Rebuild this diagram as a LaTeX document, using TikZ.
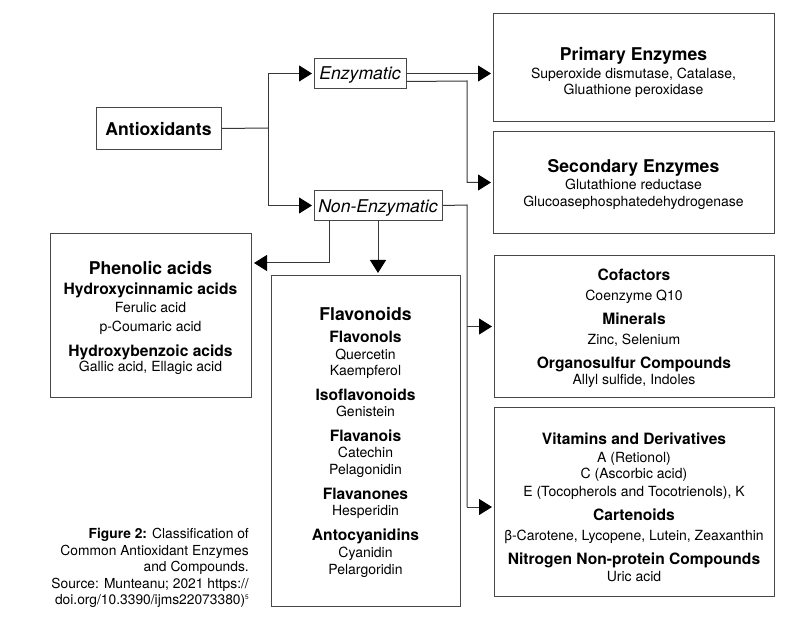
\documentclass[tikz,border=0pt]{standalone}
\usepackage{fontspec}
\setmainfont{TeX Gyre Heros}
\usetikzlibrary{arrows.meta}
\tikzset{
  boxn/.style={draw=black!72, line width=1pt, inner sep=0pt, anchor=north west},
  tx/.style={anchor=base, inner sep=0pt, text=black},
  hd/.style={tx, font=\fontsize{17.6}{20}\selectfont\bfseries},
  sh/.style={tx, font=\fontsize{15.6}{18}\selectfont\bfseries},
  itm/.style={tx, font=\fontsize{14}{16}\selectfont},
  ital/.style={tx, font=\fontsize{17.6}{20}\selectfont\itshape},
  captxt/.style={anchor=base east, inner sep=0pt, font=\fontsize{13.8}{16}\selectfont},
  conn/.style={draw=black!78, line width=1pt},
  arr/.style={conn, -{Triangle[length=13pt,width=16pt,fill=black,color=black]}, shorten >=2pt}
}
\begin{document}
\begin{tikzpicture}[x=1pt,y=-1pt]
\useasboundingbox[fill=white] (0,0) rectangle (800,620);

% ---- boxes ----
\node[boxn, minimum width=125pt, minimum height=42pt] (anti) at (96,107) {};
\node[boxn, minimum width=92pt, minimum height=30pt] (enz) at (314,58) {};
\node[boxn, minimum width=128pt, minimum height=30pt] (nenz) at (314,190) {};
\node[boxn, minimum width=281pt, minimum height=108pt] (prim) at (493,13) {};
\node[boxn, minimum width=281pt, minimum height=102pt] (sec) at (493,131) {};
\node[boxn, minimum width=201pt, minimum height=164pt] (phen) at (50,233) {};
\node[boxn, minimum width=189pt, minimum height=331pt] (flav) at (271,275) {};
\node[boxn, minimum width=280pt, minimum height=142pt] (cof) at (494,255) {};
\node[boxn, minimum width=280pt, minimum height=189pt] (vit) at (494,407) {};

% ---- texts ----
\node[hd] (anti-t) at (158.5,135.5) {Antioxidants};
\node[ital] (enz-t) at (360,80) {Enzymatic};
\node[ital] (nenz-t) at (378,212.5) {Non-Enzymatic};

\node[hd] (prim-h) at (633.5,60.6) {Primary Enzymes};
\node[itm] (prim-a) at (633.5,78.3) {Superoxide dismutase, Catalase,};
\node[itm] (prim-b) at (633.5,94.3) {Gluathione peroxidase};

\node[hd] (sec-h) at (633.5,173) {Secondary Enzymes};
\node[itm] (sec-a) at (633.5,189.3) {Glutathione reductase};
\node[itm] (sec-b) at (633.5,206.7) {Glucoasephosphatedehydrogenase};

\node[hd] (phen-h) at (150.5,274) {Phenolic acids};
\node[sh] (phen-s1) at (150.5,294.9) {Hydroxycinnamic acids};
\node[itm] (phen-a) at (150.5,312.3) {Ferulic acid};
\node[itm] (phen-b) at (150.5,331) {p-Coumaric acid};
\node[sh] (phen-s2) at (150.5,356.3) {Hydroxybenzoic acids};
\node[itm] (phen-c) at (150.5,371.7) {Gallic acid, Ellagic acid};

\node[hd] (flav-h) at (365.5,320.3) {Flavonoids};
\node[sh] (flav-s1) at (365.5,342.3) {Flavonols};
\node[itm] (flav-a) at (365.5,359) {Quercetin};
\node[itm] (flav-b) at (365.5,375.7) {Kaempferol};
\node[sh] (flav-s2) at (365.5,400.6) {Isoflavonoids};
\node[itm] (flav-c) at (365.5,416.7) {Genistein};
\node[sh] (flav-s3) at (365.5,441.6) {Flavanois};
\node[itm] (flav-d) at (365.5,457.7) {Catechin};
\node[itm] (flav-e) at (365.5,474.3) {Pelagonidin};
\node[sh] (flav-s4) at (365.5,499.6) {Flavanones};
\node[itm] (flav-f) at (365.5,515.7) {Hesperidin};
\node[sh] (flav-s5) at (365.5,540.6) {Antocyanidins};
\node[itm] (flav-g) at (365.5,557.7) {Cyanidin};
\node[itm] (flav-i) at (365.5,574.3) {Pelargoridin};

\node[sh] (cof-s1) at (634,280.6) {Cofactors};
\node[itm] (cof-a) at (634,300) {Coenzyme Q10};
\node[sh] (cof-s2) at (634,324.9) {Minerals};
\node[itm] (cof-b) at (634,344) {Zinc, Selenium};
\node[sh] (cof-s3) at (634,368.3) {Organosulfur Compounds};
\node[itm] (cof-c) at (634,384.3) {Allyl sulfide, Indoles};

\node[sh] (vit-s1) at (634,444.6) {Vitamins and Derivatives};
\node[itm] (vit-a) at (634,462.3) {A (Retionol)};
\node[itm] (vit-b) at (634,478.3) {C (Ascorbic acid)};
\node[itm] (vit-c) at (634,496.7) {E (Tocopherols and Tocotrienols), K};
\node[sh] (vit-s2) at (634,520.9) {Cartenoids};
\node[itm] (vit-d) at (634,540) {β-Carotene, Lycopene, Lutein, Zeaxanthin};
\node[sh] (vit-s3) at (634,564.9) {Nitrogen Non-protein Compounds};
\node[itm] (vit-e) at (634,581.7) {Uric acid};

% ---- caption ----
\node[captxt] (cap1) at (249,538) {\textbf{Figure 2:} Classification of};
\node[captxt] (cap2) at (249,555) {Common Antioxidant Enzymes};
\node[captxt] (cap3) at (249,571.7) {and Compounds.};
\node[captxt] (cap4) at (249,588) {Source: Munteanu; 2021 https://};
\node[captxt] (cap5) at (249,604.5) {doi.org/10.3390/ijms22073380)\raisebox{5pt}{\fontsize{6.5}{7}\selectfont 5}};

% ---- connectors ----
\draw[conn] (anti.east) -- (268,128) coordinate (j1);
\draw[arr] (j1) |- (enz.west);
\draw[arr] (j1) |- (nenz.west);
\draw[arr] (enz.east) -- (enz.east -| prim.west);
\draw[arr] ([yshift=-8pt]enz.east) -- (467,81) |- (sec.west);
\draw[conn] (nenz.east) -- (467,205) coordinate (j2) -- (467,507) coordinate (j3);
\draw[arr] (j2 |- cof.west) -- (cof.west);
\draw[arr] (j3) -- (j3 -| vit.west);
\draw[arr] (329,220) coordinate (j4) |- (phen.east |- 0,263);
\draw[arr] (378,220) coordinate (j5) -- (j5 |- flav.north);
\end{tikzpicture}
\end{document}
